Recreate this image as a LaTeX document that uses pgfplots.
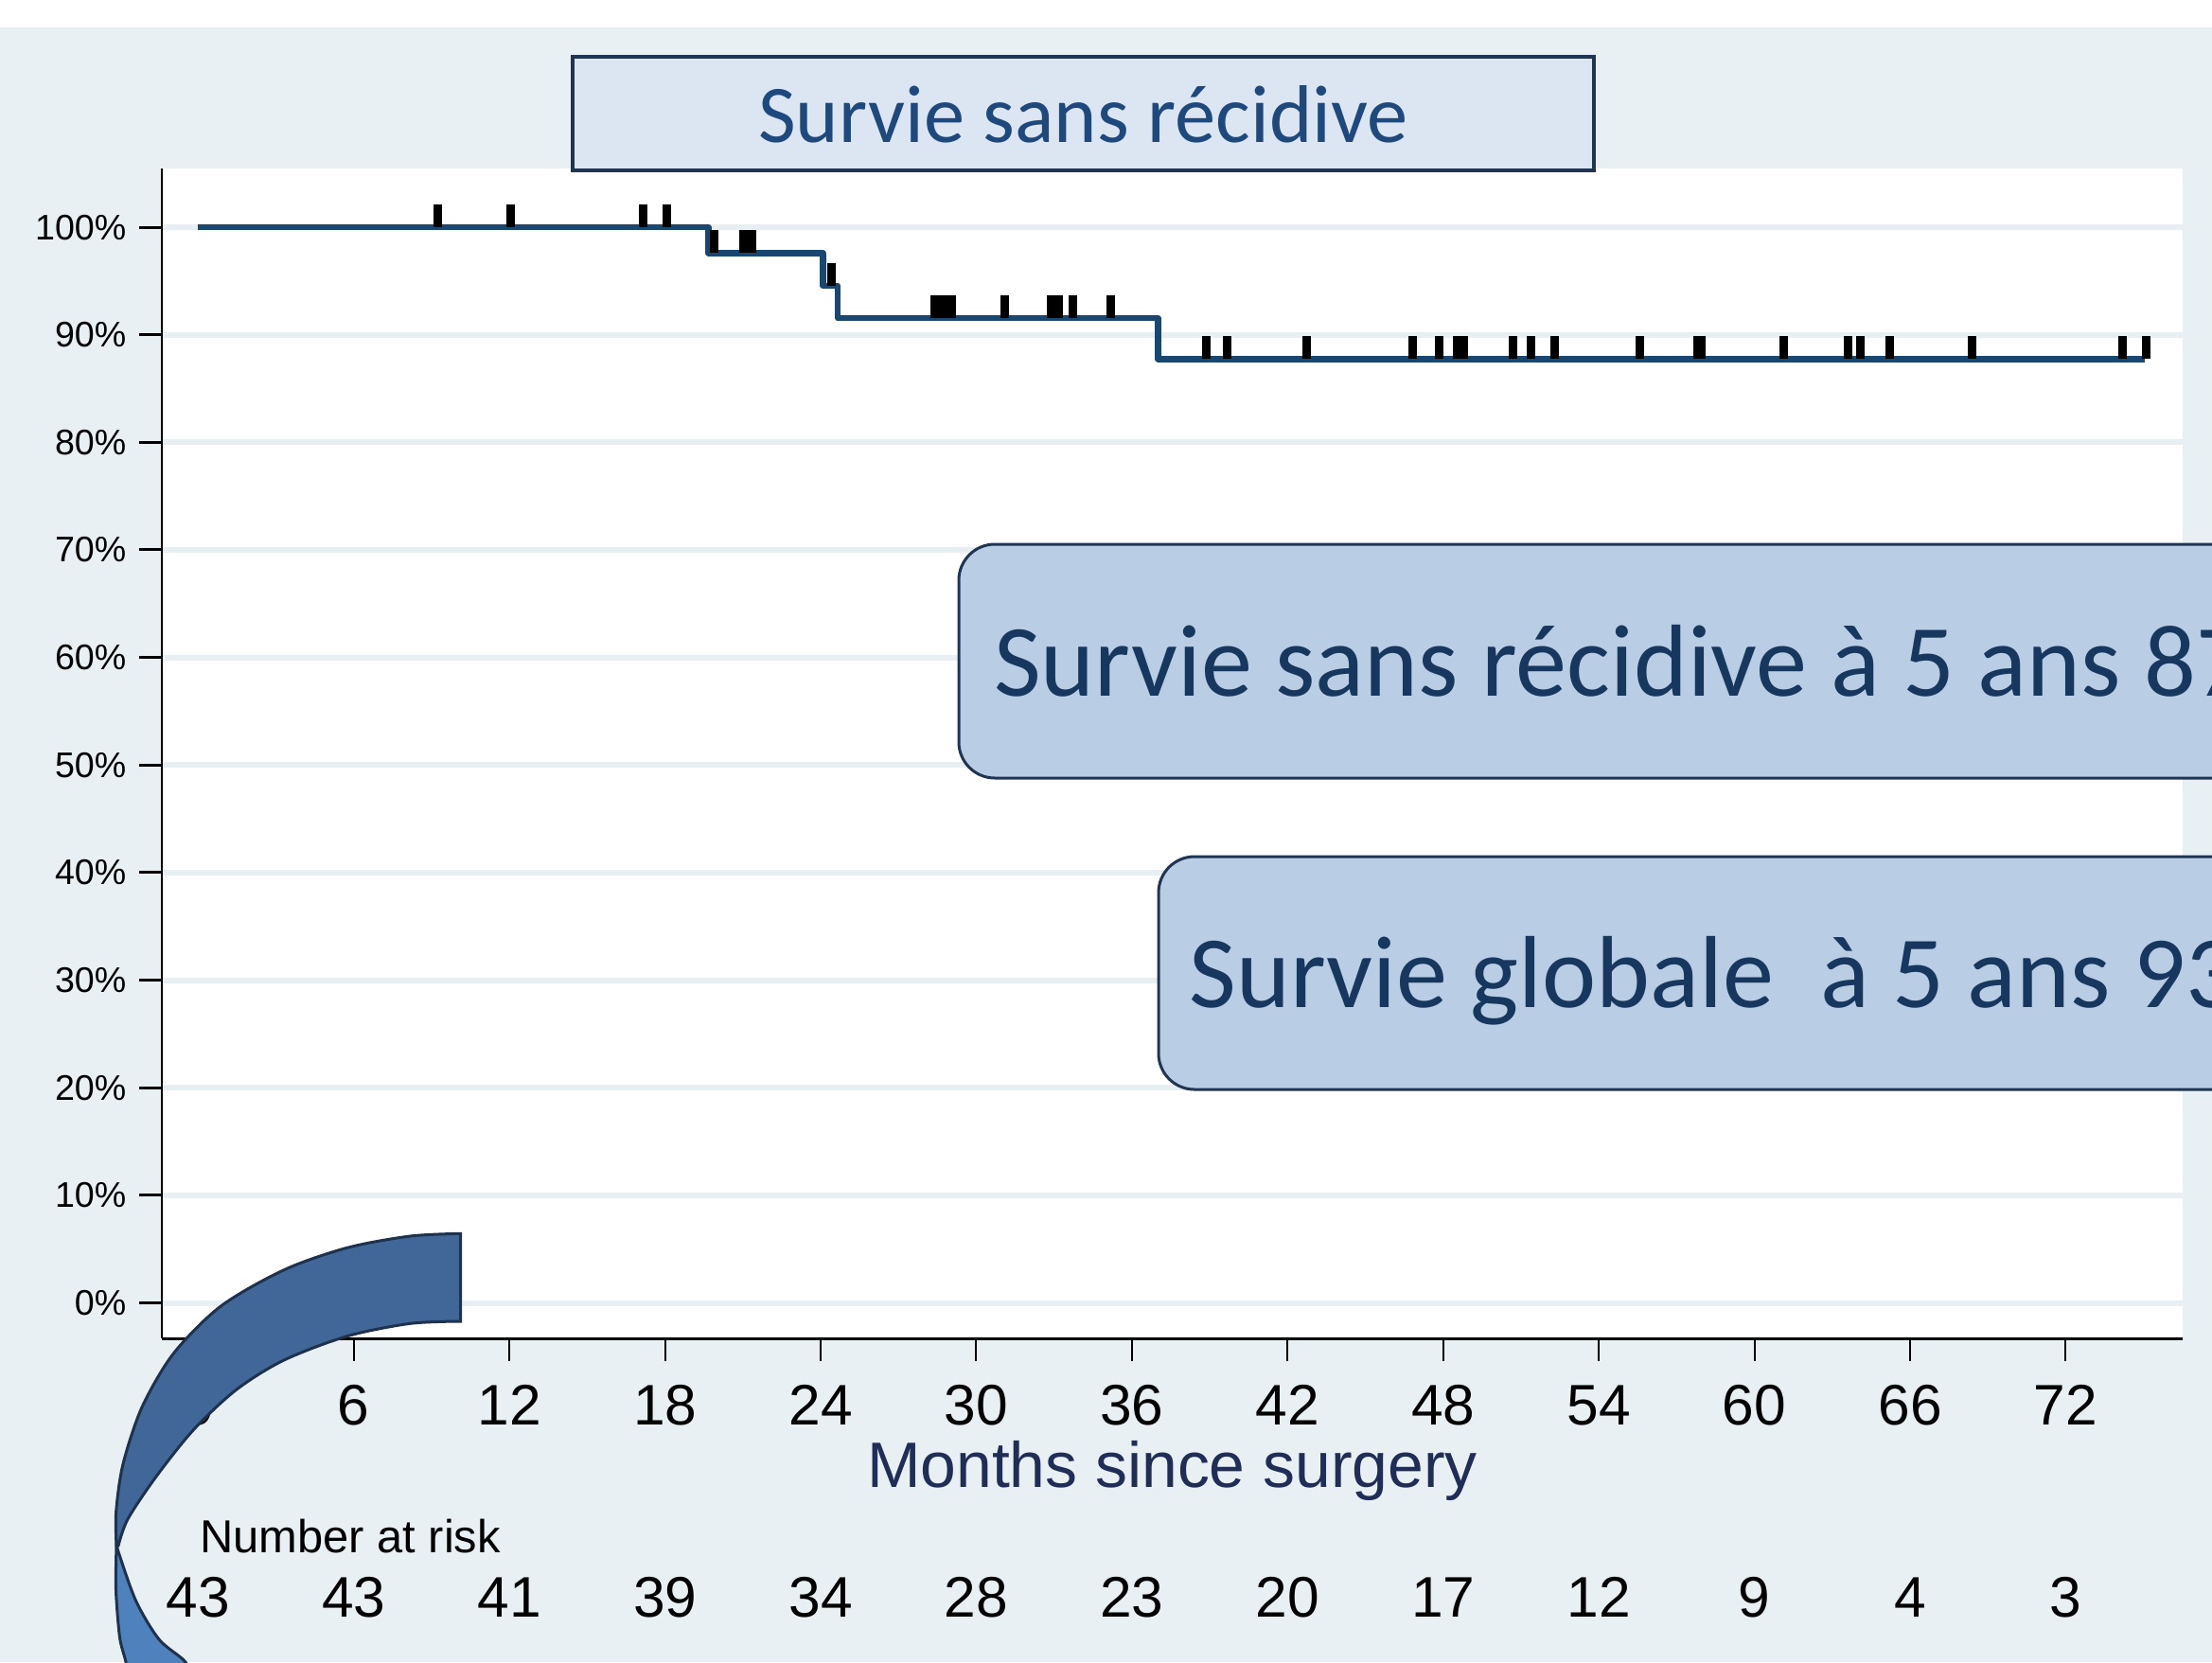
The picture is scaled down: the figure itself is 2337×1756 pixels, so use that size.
\documentclass[border=0pt]{standalone}
\usepackage{fontspec}
\setmainfont{Liberation Sans}
\newfontfamily\carlito{Carlito}
\usepackage{pgfplots}
\pgfplotsset{compat=1.18}

\definecolor{bgc}{RGB}{233,240,243}
\definecolor{gridc}{RGB}{232,239,242}
\definecolor{kmline}{RGB}{26,71,111}
\definecolor{navytxt}{RGB}{31,45,87}
\definecolor{titlefill}{RGB}{220,230,242}
\definecolor{titletxt}{RGB}{31,73,125}
\definecolor{boxborder}{RGB}{31,53,82}
\definecolor{calloutfill}{RGB}{185,205,229}
\definecolor{callouttxt}{RGB}{23,55,94}
\definecolor{arrowdark}{RGB}{64,103,152}
\definecolor{arrowlight}{RGB}{79,129,189}
\definecolor{arrowedge}{RGB}{30,50,78}

\begin{document}
\begin{tikzpicture}
\begin{scope}[x=0.1mm,y=-0.1mm]
\fill[white] (0,0) rectangle (2337,1756);
\fill[bgc] (0,29) rectangle (2337,1756);
\end{scope}

\begin{axis}[
  at={(17.1mm,-141.4mm)}, anchor=south west,
  scale only axis, width=213.5mm, height=123.6mm,
  xmin=-1.40, xmax=76.51, ymin=-3.30, ymax=105.46,
  axis x line*=bottom, axis y line*=left,
  axis background/.style={fill=white},
  clip=false,
  xtick={0,6,...,72},
  xticklabels={0,6,12,18,24,30,36,42,48,54,60,66,72},
  ytick={0,10,...,100},
  yticklabels={0\%,10\%,20\%,30\%,40\%,50\%,60\%,70\%,80\%,90\%,100\%},
  tick align=outside,
  major tick length=2.4mm,
  xtick style={black, line width=0.2mm},
  ytick style={black, line width=0.3mm},
  x axis line style={black, line width=0.3mm},
  y axis line style={black, line width=0.2mm},
  ymajorgrids,
  major grid style={gridc, line width=0.6mm},
  xticklabel style={font=\fontsize{17.2}{19}\selectfont, inner sep=0pt, anchor=north, yshift=-2.5mm},
  yticklabel style={font=\fontsize{10.7}{12}\selectfont, inner sep=0pt, anchor=east, xshift=-1.3mm},
  xlabel={Months since surgery},
  xlabel style={at={(axis description cs:0.5,0)}, anchor=base, yshift=-15.77mm,
                font=\fontsize{19.3}{22}\selectfont, text=navytxt, inner sep=0pt},
]
\addplot[kmline, line width=0.65mm, const plot, line join=round, mark=none]
  coordinates {(0,100) (19.67,97.6) (24.08,94.57) (24.66,91.55) (37.0,87.75) (75.05,87.75)};
\addplot[only marks, mark=|, mark size=1.2mm, mark options={line width=0.9mm, black}]
  coordinates {
  (9.22,101.05) (12.06,101.05) (17.17,101.05) (18.06,101.05)
  (19.9,98.65) (21.03,98.65) (21.36,98.65)
  (24.43,95.62)
  (28.41,92.6) (28.73,92.6) (29.07,92.6) (31.11,92.6) (32.9,92.6) (33.16,92.6) (33.73,92.6) (35.2,92.6)
  (38.88,88.8) (39.67,88.8) (42.75,88.8) (46.83,88.8) (47.86,88.8) (48.55,88.8) (48.8,88.8)
  (50.69,88.8) (51.38,88.8) (52.28,88.8) (55.57,88.8) (57.8,88.8) (57.95,88.8) (61.13,88.8)
  (63.62,88.8) (64.1,88.8) (65.2,88.8) (68.39,88.8) (74.19,88.8) (75.09,88.8)
  };
\addplot[only marks, mark=none, nodes near coords, point meta=explicit symbolic,
  every node near coord/.append style={anchor=base, inner sep=0pt, text=black,
    font=\fontsize{17.2}{19}\selectfont}]
  coordinates {
  (0,-29.19)[43] (6,-29.19)[43] (12,-29.19)[41] (18,-29.19)[39] (24,-29.19)[34]
  (30,-29.19)[28] (36,-29.19)[23] (42,-29.19)[20] (48,-29.19)[17] (54,-29.19)[12]
  (60,-29.19)[9] (66,-29.19)[4] (72,-29.19)[3]
  };
\node[anchor=base west, inner sep=0pt, font=\fontsize{13.9}{16}\selectfont]
  at (axis cs:0.04,-23.19) {Number at risk};
\end{axis}

\begin{scope}[x=0.1mm,y=-0.1mm]
% title box
\draw[boxborder, line width=0.45mm, fill=titlefill] (605,60) rectangle (1684,180);
\node[anchor=base, inner sep=0pt, font=\carlito\fontsize{24.6}{28}\selectfont, text=titletxt]
  at (1144.5,150) {Survie sans récidive};
% callouts
\draw[boxborder, line width=0.3mm, fill=calloutfill, rounded corners=3.8mm] (1013,575) rectangle (2500,822);
\node[anchor=base west, inner sep=0pt, font=\carlito\fontsize{30.8}{34}\selectfont, text=callouttxt]
  at (1049.5,735.7) {Survie sans récidive à 5 ans 87\%};
\draw[boxborder, line width=0.3mm, fill=calloutfill, rounded corners=3.8mm] (1224,905) rectangle (2500,1151);
\node[anchor=base west, inner sep=0pt, font=\carlito\fontsize{30.8}{34}\selectfont, text=callouttxt]
  at (1255.8,1064.3) {Survie globale\ \ à 5 ans 93\%};
% curved arrow
\filldraw[fill=arrowlight, draw=arrowedge, line width=0.3mm]
  plot[smooth] coordinates {(123,1633) (122.5,1680) (126.5,1730) (133,1756) (136,1780)}
  -- plot[smooth] coordinates {(205,1780) (196,1756) (168,1732) (143,1690) (123,1633)} -- cycle;
\filldraw[fill=arrowdark, draw=arrowedge, line width=0.3mm]
  plot[smooth] coordinates {(486.7,1303.3) (433.3,1306) (366.7,1318.3) (300,1341.7) (233.3,1380) (183.3,1430) (150,1486.7) (130,1546.7) (122.7,1596.7) (123,1633)}
  -- plot[smooth] coordinates {(125,1633) (135,1605) (165,1560) (205,1510) (250,1468) (300,1437) (366.7,1411.7) (433.3,1398.3) (486.7,1396)} -- cycle;
\pgfresetboundingbox
\path[use as bounding box] (0,0) rectangle (2337,1756);
\end{scope}
\end{tikzpicture}
\end{document}
